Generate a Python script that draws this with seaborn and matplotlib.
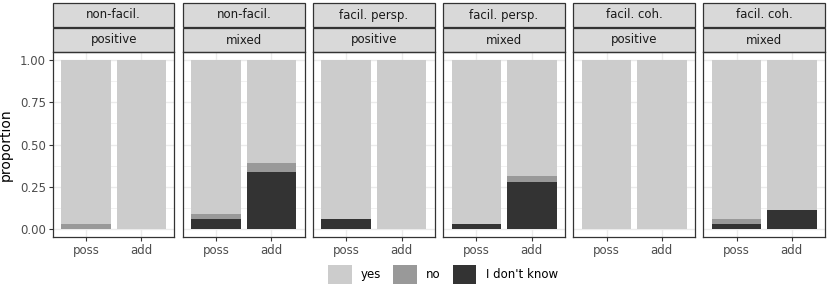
import pandas as pd
import matplotlib
matplotlib.use("Agg")
import matplotlib.pyplot as plt
import seaborn as sns
from matplotlib.patches import Rectangle, Patch

# facet labels
conditions = ["non-facil.", "non-facil.", "facil. persp.", "facil. persp.", "facil. coh.", "facil. coh."]
polarity = ["positive", "mixed", "positive", "mixed", "positive", "mixed"]
items = ["poss", "add"]

# proportions per panel (yes = rest)
idk_poss = [0.0, 0.058, 0.06, 0.028, 0.0, 0.028]
no_poss = [0.028, 0.028, 0.0, 0.0, 0.0, 0.03]
idk_add = [0.0, 0.335, 0.0, 0.28, 0.0, 0.11]
no_add = [0.0, 0.055, 0.0, 0.03, 0.0, 0.0]

answers = ["yes", "no", "I don't know"]
colors = {"yes": "#cccccc", "no": "#999999", "I don't know": "#333333"}

rows = []
for i in range(6):
    for item, idk, no in [("poss", idk_poss[i], no_poss[i]), ("add", idk_add[i], no_add[i])]:
        rows.append({"panel": i, "item": item, "answer": "I don't know", "prop": idk})
        rows.append({"panel": i, "item": item, "answer": "no", "prop": no})
        rows.append({"panel": i, "item": item, "answer": "yes", "prop": 1 - idk - no})
df = pd.DataFrame(rows)
# stack order: idk at bottom, then no, then yes
order_stack = ["I don't know", "no", "yes"]
df["rank"] = df["answer"].map({a: k for k, a in enumerate(order_stack)})
df = df.sort_values(["panel", "item", "rank"])
df["top"] = df.groupby(["panel", "item"])["prop"].cumsum()

W, H = 829, 287
fig = plt.figure(figsize=(W / 100, H / 100), dpi=100)

left0, pw, gap = 53, 121.5, 8.6
top, bottom = 52, 237
ph = bottom - top
strip_h = 24

for i in range(6):
    x0 = left0 + i * (pw + gap)
    ax = fig.add_axes([x0 / W, 1 - bottom / H, pw / W, ph / H])
    sub = df[df["panel"] == i]
    for ans in ["yes", "no", "I don't know"]:
        s = sub[sub["answer"] == ans]
        sns.barplot(data=s, x="item", y="top", order=items, color=colors[ans],
                    width=0.9, saturation=1, errorbar=None, ax=ax, linewidth=0, zorder=3)
    ax.set_xlim(-0.6, 1.6)
    ax.set_ylim(-0.05, 1.05)
    ax.set_xlabel("")
    ax.set_ylabel("")
    ax.set_yticks([0, 0.25, 0.5, 0.75, 1.0])
    ax.set_yticks([0.125, 0.375, 0.625, 0.875], minor=True)
    ax.set_facecolor("white")
    ax.grid(True, which="major", color="#ebebeb", lw=1.0, zorder=0)
    ax.grid(True, which="minor", axis="y", color="#ebebeb", lw=0.5, zorder=0)
    ax.set_axisbelow(True)
    for sp in ax.spines.values():
        sp.set_color("#333333")
        sp.set_linewidth(0.9)
    ax.tick_params(axis="both", which="major", length=3, color="#333333",
                   labelcolor="#4d4d4d", labelsize=8.5, pad=2)
    ax.tick_params(axis="both", which="minor", length=0)
    if i == 0:
        ax.set_yticklabels(["0.00", "0.25", "0.50", "0.75", "1.00"])
        ax.set_ylabel("proportion", fontsize=10, color="black", labelpad=5)
    else:
        ax.tick_params(axis="y", which="major", length=0, labelleft=False)

    # facet strips
    for k, lab in enumerate([polarity[i], conditions[i]]):
        y0 = 1 + (k * (strip_h + 1)) / ph
        ax.add_patch(Rectangle((0, y0), 1, strip_h / ph, transform=ax.transAxes,
                               facecolor="#d9d9d9", edgecolor="#333333", lw=0.9,
                               clip_on=False))
        ax.text(0.5, y0 + strip_h / ph / 2, lab, transform=ax.transAxes,
                ha="center", va="center", fontsize=8.5, color="#1a1a1a")

handles = [Patch(facecolor=colors[a], edgecolor="none", label=a) for a in answers]
fig.legend(handles=handles, loc="lower center", bbox_to_anchor=(443 / W, -0.025), ncol=3,
           frameon=False, fontsize=8.5, handlelength=2.0, handleheight=2.0,
           columnspacing=1.0, handletextpad=0.8)

fig.savefig("out.png", dpi=100)
